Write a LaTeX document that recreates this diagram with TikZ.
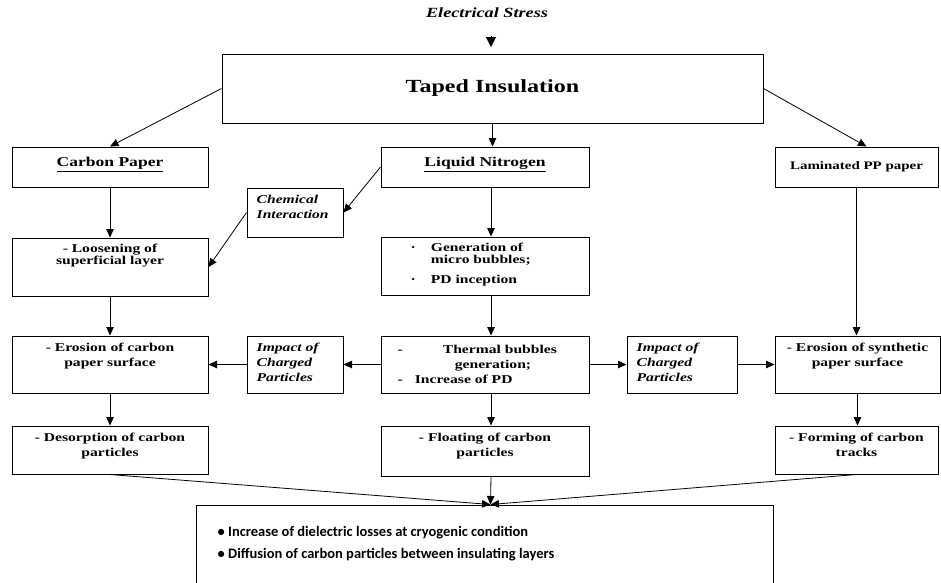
\documentclass[tikz,border=0pt]{standalone}
\usepackage{fontspec}
\setmainfont{Liberation Serif}[FakeStretch=1.3]
\newfontfamily\calfont{Carlito}
\usetikzlibrary{positioning,arrows.meta}

\tikzset{
  box/.style 2 args={draw, line width=1pt, minimum width=#1pt, minimum height=#2pt, inner sep=0pt},
  txt/.style={inner sep=0pt, align=center, font=\bfseries\fontsize{12}{15}\selectfont},
  tight/.style={txt, font=\bfseries\fontsize{12}{12}\selectfont},
  ital/.style={txt, align=left, font=\bfseries\itshape\fontsize{12}{15}\selectfont},
  head/.style={txt, font=\bfseries\fontsize{13.5}{16}\selectfont},
  arr/.style={line width=0.8pt, -{Triangle[length=8.5pt,width=7.5pt]}},
}

\begin{document}
\begin{tikzpicture}[x=1pt, y=-1pt]
  \useasboundingbox (0,0) rectangle (941,582);

  \node[ital, font=\bfseries\itshape\fontsize{14}{16}\selectfont] (es) at (487,13) {Electrical Stress};
  \coordinate (esA) at (491,36);
  \coordinate (esB) at (491,47);
  \draw[-{Triangle[length=10pt,width=10pt]}] (esA) -- (esB);

  \node[box={541}{69}, font=\bfseries\fontsize{18.5}{20}\selectfont] (ti) at (492.5,88.5) {Taped Insulation};

  % first row
  \node[box={196}{40}] (cp) at (110,167) {};
  \node[box={208}{40}] (ln) at (485,167) {};
  \node[box={163}{40}, font=\bfseries\fontsize{11.5}{14}\selectfont] (lpp) at (856.5,167) {Laminated PP paper};
  \node[head, below=10.5pt of cp.north] (cpT) {\underline{Carbon Paper}};
  \node[head, below=10.5pt of ln.north] (lnT) {\underline{Liquid Nitrogen}};

  \node[box={96}{49}] (ci) at (295,212.5) {};
  \node[ital, below right=7.5pt and 10pt of ci.north west] (ciT) {Chemical\\Interaction};

  % second row
  \node[box={196}{58}] (lo) at (110,267) {};
  \node[box={208}{58}] (gen) at (485,266) {};
  \node[tight, below=6pt of lo.north] (loT) {- Loosening of\\superficial layer};
  \node[tight, below right=6pt and 30pt of gen.north west] (genT)
    {\begin{tabular}{@{}l@{\hspace{15pt}}l@{}}·&Generation of\\&micro bubbles;\\[8pt]·&PD inception\end{tabular}};

  % third row
  \node[box={196}{57}] (ecp) at (110,364.5) {};
  \node[box={96}{57}] (icl) at (295,364.5) {};
  \node[box={208}{57}] (tb) at (485,364.5) {};
  \node[box={110}{57}] (icr) at (682,364.5) {};
  \node[box={165}{57}] (esp) at (857.5,364.5) {};
  \node[txt, below=7.5pt of ecp.north] (ecpT) {- Erosion of carbon\\paper surface};
  \node[ital, below right=7.5pt and 10pt of icl.north west] (iclT) {Impact of\\Charged\\Particles};
  \node[txt, below right=7.5pt and 17pt of tb.north west] (tbT)
    {\begin{tabular}{@{}l@{\hspace{12pt}}l@{}}-&\hspace{28pt}Thermal bubbles\\&\hspace{40pt}generation;\\-&Increase of PD\end{tabular}};
  \node[ital, below right=7.5pt and 10pt of icr.north west] (icrT) {Impact of\\Charged\\Particles};
  \node[txt, below=7.5pt of esp.north] (espT) {- Erosion of synthetic\\paper surface};

  % fourth row
  \node[box={196}{48}] (dcp) at (110,450) {};
  \node[box={208}{50}] (fcp) at (485,451) {};
  \node[box={163}{48}] (fct) at (856.5,450) {};
  \node[txt, below=7.5pt of dcp.north] (dcpT) {- Desorption of carbon\\particles};
  \node[txt, below=7.5pt of fcp.north] (fcpT) {- Floating of carbon\\particles};
  \node[txt, below=7.5pt of fct.north] (fctT) {- Forming of carbon\\tracks};

  % result
  \node[box={577}{85}] (res) at (484.5,547.5) {};
  \node[txt, align=left, font=\calfont\bfseries\fontsize{14.5}{22}\selectfont,
    below right=22pt and 22pt of res.north west] (resT)
    {• Increase of dielectric losses at cryogenic condition\\• Diffusion of carbon particles between insulating layers};
  \coordinate (meet) at ([xshift=6pt]res.north);

  \draw[arr] (ti.west) -- (cp.north);
  \draw[arr] (ti.south) -- (ti.south |- ln.north);
  \draw[arr] (ti.east) -- ([xshift=10pt]lpp.north);
  \draw[arr] (cp.south) -- (lo.north);
  \draw[arr] ([xshift=6pt]ln.south) -- ([xshift=6pt]gen.north);
  \draw[arr] (ln.west) -- (ci.east);
  \draw[arr] (ci.west) -- (lo.east);
  \draw[arr] (lpp.south) -- (lpp.south |- esp.north);
  \draw[arr] (lo.south) -- (ecp.north);
  \draw[arr] ([xshift=6pt]gen.south) -- ([xshift=6pt]tb.north);
  \draw[arr] (tb.west) -- (icl.east);
  \draw[arr] (icl.west) -- (ecp.east);
  \draw[arr] (tb.east) -- (icr.west);
  \draw[arr] (icr.east) -- (esp.west);
  \draw[arr] (ecp.south) -- (dcp.north);
  \draw[arr] ([xshift=6pt]tb.south) -- ([xshift=6pt]fcp.north);
  \draw[arr] (esp.south) -- (esp.south |- fct.north);
  \draw[arr] (dcp.south) -- (meet);
  \draw[arr] ([xshift=6pt]fcp.south) -- (meet);
  \draw[arr] (fct.south) -- (meet);
\end{tikzpicture}
\end{document}
